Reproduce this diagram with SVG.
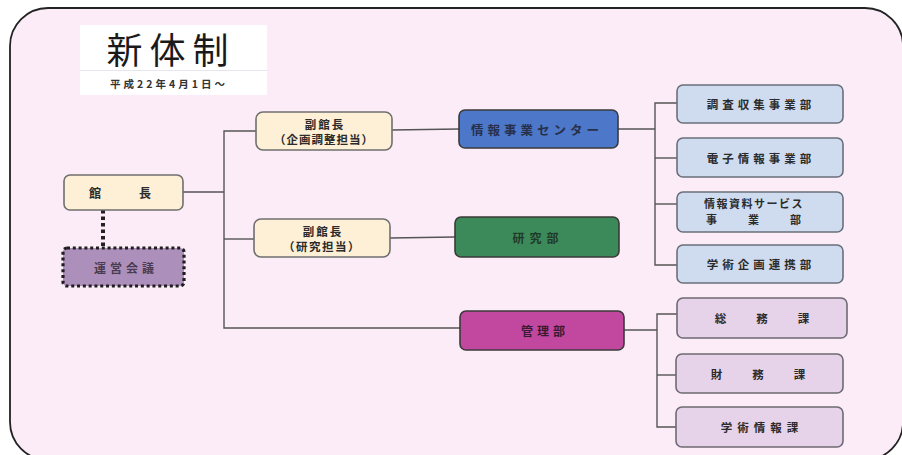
<svg xmlns="http://www.w3.org/2000/svg" width="902" height="455" viewBox="0 0 902 455">
<defs>
<style>
text{font-family:"Noto Sans CJK JP","Noto Sans",sans-serif;text-anchor:middle;dominant-baseline:central;}
.t{font-size:11.5px;font-weight:bold;fill:#2b2b2b;}
.box{stroke:#6f6f6f;stroke-width:1.6;}
.cream{fill:#fdf0d6;}
.lblue{fill:#cfdcf0;stroke:#6a6f7a;stroke-width:1.6;}
.lav{fill:#e6d3ea;stroke:#6e6a72;stroke-width:1.6;}
.dark{stroke:#3a3a3a;stroke-width:1.6;}
.conn line,.conn path{stroke:#555;stroke-width:1.4;fill:none;}
</style>
</defs>
<rect x="0" y="0" width="902" height="455" fill="#ffffff"/>
<rect id="frame" x="10" y="8" width="893" height="452" rx="38" ry="38" fill="#fcecf7" stroke="#222" stroke-width="1.8"/>

<g id="title">
<rect x="80" y="25" width="187" height="70" fill="#ffffff"/>
<line x1="80" y1="70.5" x2="267" y2="70.5" stroke="#e6e6ee" stroke-width="1"/>
<text x="171" y="48" style="font-size:36px;fill:#1a1a1a;letter-spacing:7px;font-weight:normal">新体制</text>
<text x="169" y="83" style="font-size:10.5px;fill:#333;letter-spacing:3px;font-weight:bold">平成22年4月1日～</text>
</g>

<g class="conn" id="connectors">
<line x1="183" y1="192" x2="224" y2="192"/>
<path d="M257 131 H224 V328 H460"/>
<line x1="224" y1="239" x2="254" y2="239"/>
<line x1="392" y1="130" x2="459" y2="129"/>
<line x1="390" y1="238" x2="455" y2="237"/>
<line x1="618" y1="129" x2="655" y2="129"/>
<path d="M677 103 H655 V265 H677"/>
<line x1="655" y1="158" x2="677" y2="158"/>
<line x1="655" y1="204" x2="677" y2="204"/>
<line x1="624" y1="330" x2="657" y2="330"/>
<path d="M677 314 H657 V427 H677"/>
<line x1="657" y1="375" x2="677" y2="375"/>
<line x1="103" y1="210" x2="103" y2="247" style="stroke:#222;stroke-width:4;stroke-dasharray:3.5 3"/>
</g>

<g id="kancho">
<rect class="box cream" x="64" y="175" width="119" height="35" rx="6"/>
<text class="t" x="139" y="192" style="letter-spacing:38px;font-size:12px">館長</text>
</g>

<g id="uneikaigi">
<rect x="63" y="248" width="121" height="38" rx="4" fill="#ad8fbb" stroke="#1e1e1e" stroke-width="3.2" stroke-dasharray="3 2.8"/>
<text class="t" x="126" y="267" style="fill:#4a3c50;letter-spacing:4px;font-size:12px">運営会議</text>
</g>

<g id="fukukancho1">
<rect class="box cream" x="256" y="112" width="136" height="38" rx="7"/>
<text class="t" x="325" y="124" style="letter-spacing:2px">副館長</text>
<text class="t" x="324" y="139" style="letter-spacing:1px">（企画調整担当）</text>
</g>

<g id="fukukancho2">
<rect class="box cream" x="254" y="219" width="136" height="38" rx="7"/>
<text class="t" x="323" y="231" style="letter-spacing:2px">副館長</text>
<text class="t" x="322" y="246" style="letter-spacing:1.5px">（研究担当）</text>
</g>

<g id="center">
<rect class="dark" x="459" y="110" width="159" height="38" rx="6" fill="#4d78c9"/>
<text class="t" x="537" y="129" style="fill:#27304a;letter-spacing:4px;font-size:12.5px">情報事業センター</text>
</g>

<g id="kenkyubu">
<rect class="dark" x="455" y="217" width="164" height="40" rx="6" fill="#3c8a59"/>
<text class="t" x="538" y="237" style="fill:#1f3a2a;letter-spacing:5px;font-size:12px">研究部</text>
</g>

<g id="kanribu">
<rect class="dark" x="460" y="311" width="164" height="39" rx="6" fill="#c2479f"/>
<text class="t" x="545" y="330" style="fill:#3a1a30;letter-spacing:4px;font-size:12px">管理部</text>
</g>

<g id="chosa">
<rect class="lblue" x="677" y="85" width="166" height="38" rx="6"/>
<text class="t" x="761" y="104" style="letter-spacing:4px">調査収集事業部</text>
</g>
<g id="denshi">
<rect class="lblue" x="677" y="138" width="166" height="39" rx="6"/>
<text class="t" x="761" y="158" style="letter-spacing:4px">電子情報事業部</text>
</g>
<g id="service">
<rect class="lblue" x="677" y="192" width="166" height="40" rx="6"/>
<text class="t" x="754" y="203" style="letter-spacing:1.5px;font-size:11px">情報資料サービス</text>
<text class="t" x="769" y="219" style="letter-spacing:31px;font-size:11px">事業部</text>
</g>
<g id="gakujutsukikaku">
<rect class="lblue" x="677" y="245" width="166" height="38" rx="6"/>
<text class="t" x="761" y="264" style="letter-spacing:4px">学術企画連携部</text>
</g>

<g id="somuka">
<rect class="lav" x="677" y="298" width="170" height="40" rx="6"/>
<text class="t" x="777" y="318" style="letter-spacing:30px">総務課</text>
</g>
<g id="zaimuka">
<rect class="lav" x="676" y="354" width="167" height="39" rx="6"/>
<text class="t" x="773" y="374" style="letter-spacing:30px">財務課</text>
</g>
<g id="gakujutsujoho">
<rect class="lav" x="676" y="407" width="167" height="40" rx="6"/>
<text class="t" x="762" y="427" style="letter-spacing:5px">学術情報課</text>
</g>
</svg>
